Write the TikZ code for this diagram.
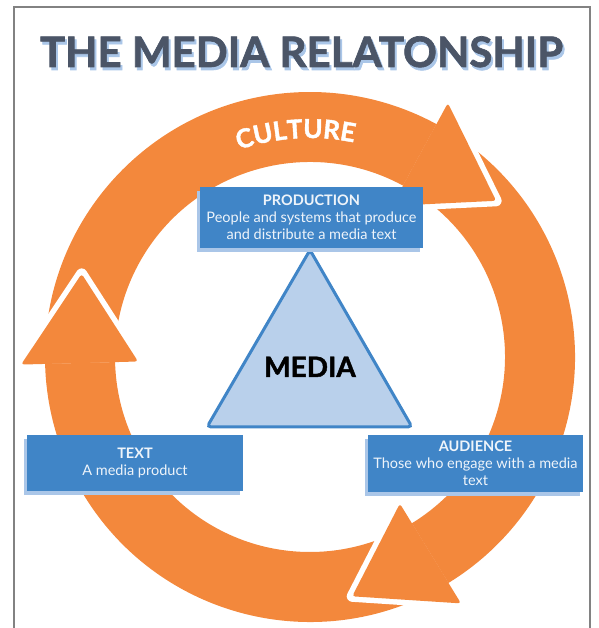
\documentclass[tikz,border=0pt]{standalone}
\usepackage{fontspec}
\setmainfont{Lato}
\newfontfamily\heavyfont{Lato}[BoldFeatures={FakeBold=1.6}]
\usetikzlibrary{decorations.text}
\definecolor{orng}{RGB}{243,136,60}
\definecolor{boxblue}{RGB}{64,133,199}
\definecolor{shadowblue}{RGB}{170,198,232}
\definecolor{tribg}{RGB}{185,208,235}
\definecolor{titlecol}{RGB}{75,85,103}
\definecolor{framegray}{RGB}{130,130,130}
\definecolor{boxtext}{RGB}{238,244,250}
\begin{document}
\begin{tikzpicture}[x=1pt,y=1pt,
  infobox/.style={fill=boxblue, text=boxtext, align=center, inner sep=0pt,
    font=\fontsize{14.5}{17}\selectfont},
  boxshadow/.style={fill=shadowblue, inner sep=0pt},
  headgap/.style={white, line width=11pt, line join=round, line cap=butt},
  titlefont/.style={font=\fontsize{42}{42}\selectfont\heavyfont\bfseries}]
\useasboundingbox (0,0) rectangle (598,628);
\draw[framegray, line width=1.5pt] (14,0) -- (14,621) -- (590,621) -- (590,0);

% title
\node[anchor=base, text=shadowblue, titlefont] (titleshadow) at (303.5,558) {THE MEDIA RELATONSHIP};
\node[anchor=base, text=titlecol, titlefont] (title) at (301.5,561) {THE MEDIA RELATONSHIP};

% cycle of arrows
\begin{scope}[shift={(310,271)}]
  \fill[orng] (181.5:265) arc[start angle=181.5, end angle=61.5, radius=265] -- (61.5:195) arc[start angle=61.5, end angle=181.5, radius=195] -- cycle;
  \fill[orng] (61.5:265) arc[start angle=61.5, end angle=-58.5, radius=265] -- (-58.5:195) arc[start angle=-58.5, end angle=61.5, radius=195] -- cycle;
  \fill[orng] (-58.5:265) arc[start angle=-58.5, end angle=-178.5, radius=265] -- (-178.5:195) arc[start angle=-178.5, end angle=-58.5, radius=195] -- cycle;
  \foreach \b/\t in {61.5/40, -58.5/-80, 181.5/160} {
    \draw[headgap] (\b:172) -- (\t:243) -- (\b:289);
    \fill[orng, rounded corners=3pt] (\b:172) -- (\t:243) -- (\b:289) -- cycle;
  }
  \path[decorate, decoration={text along path, text align=center,
     text={|\fontsize{26}{26}\selectfont\heavyfont\bfseries\color{white}|CULTURE}}]
     (133.7:219) arc[start angle=133.7, end angle=53.7, radius=219];
\end{scope}

% triangle
\coordinate (ttop) at (310,378);
\coordinate (tleft) at (207,201);
\coordinate (tright) at (412,201);
\draw[boxblue, fill=tribg, line width=3pt, rounded corners=4pt] (ttop) -- (tright) -- (tleft) -- cycle;
\node[anchor=base, font=\fontsize{28}{28}\selectfont\heavyfont\bfseries] (media) at (310,251) {MEDIA};

% boxes
\node[boxshadow, minimum width=223pt, minimum height=61pt] (prodsh) at (308.5,406.5) {};
\node[infobox, minimum width=223pt, minimum height=61pt] (prod) at (311.5,410.5) {\textbf{PRODUCTION}\\People and systems that produce\\and distribute a media text};
\node[boxshadow, minimum width=216pt, minimum height=56pt] (textsh) at (132,161) {};
\node[infobox, minimum width=216pt, minimum height=56pt] (text) at (135,165) {\textbf{TEXT}\\A media product};
\node[boxshadow, minimum width=215pt, minimum height=57pt] (audsh) at (472.5,160.5) {};
\node[infobox, minimum width=215pt, minimum height=57pt] (aud) at (475.5,164.5) {\textbf{AUDIENCE}\\Those who engage with a media\\text};
\end{tikzpicture}
\end{document}
